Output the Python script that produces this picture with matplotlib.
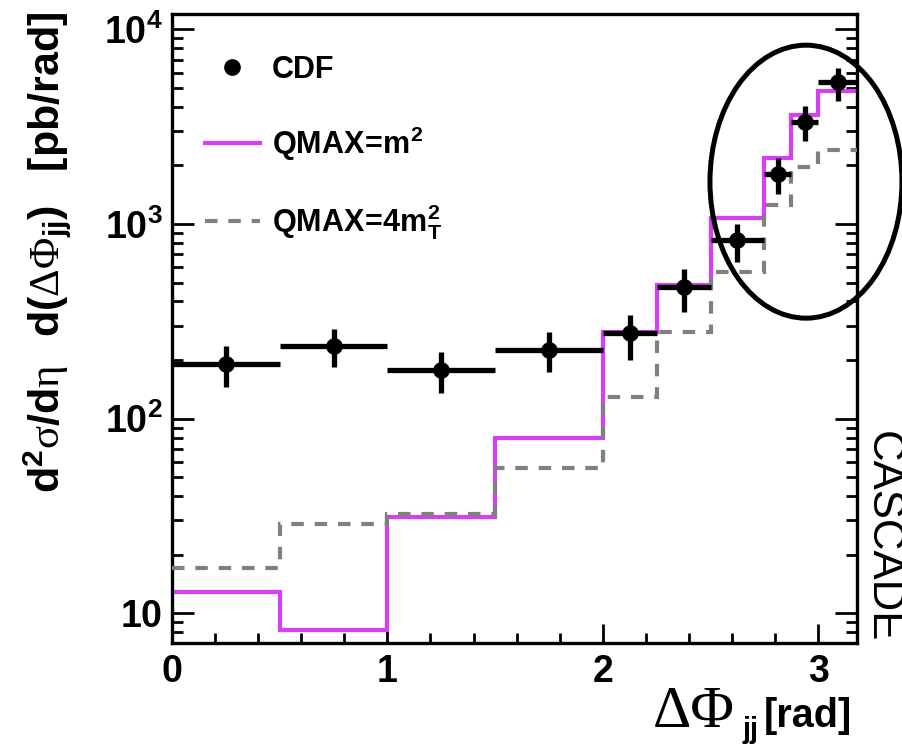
import numpy as np
import matplotlib
matplotlib.use("Agg")
import matplotlib.pyplot as plt
from matplotlib.lines import Line2D
from matplotlib.patches import Ellipse
from matplotlib.ticker import FixedLocator, MultipleLocator, LogLocator, NullFormatter

plt.rcParams['font.family'] = ['Liberation Sans', 'DejaVu Sans']
plt.rcParams['font.weight'] = 'bold'
plt.rcParams['mathtext.fontset'] = 'custom'
plt.rcParams['mathtext.rm'] = 'Liberation Serif:normal'
plt.rcParams['mathtext.it'] = 'Liberation Serif:normal'
plt.rcParams['mathtext.sf'] = 'Liberation Sans:bold'
plt.rcParams['mathtext.bf'] = 'Liberation Sans:bold'

# ---- data ----
bin_edges = [0.0, 0.5, 1.0, 1.5, 2.0, 2.25, 2.5, 2.75, 2.875, 3.0, 3.18]
cdf_y = [190, 237, 178, 225, 276, 473, 827, 1806, 3352, 5380]
cdf_err_lo = [45, 53, 42, 52, 76, 119, 187, 385, 683, 1080]
cdf_err_hi = [46, 51, 43, 53, 65, 112, 173, 368, 685, 926]
qmax_m2 = [12.8, 8.2, 31.4, 79.9, 280, 486, 1070, 2175, 3630, 4840]
qmax_4mt2 = [17.1, 28.7, 32.5, 55.6, 129, 280, 569, 1252, 1969, 2399]
x_ticks = [0, 1, 2, 3]
y_ticks = [10, 100, 1000, 10000]
y_tick_labels = [r'$\mathsf{10}$', r'$\mathsf{10^{2}}$', r'$\mathsf{10^{3}}$', r'$\mathsf{10^{4}}$']
legend_labels = ['CDF', r'$\mathsf{QMAX\!=\!m^{2}}$', r'$\mathsf{QMAX\!=\!4m_{T}^{2}}$']

edges = np.array(bin_edges)
centers = 0.5 * (edges[:-1] + edges[1:])
half = 0.5 * np.diff(edges)

fig = plt.figure(figsize=(9.02, 7.49), dpi=100)
ax = fig.add_axes([172/902, 1-642.7/749, 685/902, (642.7-14)/749])

magenta = '#d93df5'
grey = '#808080'
dash = (0, (3.0, 2.6))
ax.stairs(qmax_m2, edges, baseline=None, color=magenta, lw=3.0, zorder=2)
ax.stairs(qmax_4mt2, edges, baseline=None, color=grey, lw=3.0,
          linestyle=dash, zorder=3)
ax.errorbar(centers, cdf_y, xerr=half, yerr=[cdf_err_lo, cdf_err_hi],
            fmt='o', color='k', ms=11, elinewidth=3.8, capsize=0, zorder=4)

ax.set_yscale('log')
ax.set_xlim(0, 3.18)
ax.set_ylim(7.06, 1.2e4)

ax.xaxis.set_major_locator(FixedLocator(x_ticks))
ax.xaxis.set_minor_locator(MultipleLocator(0.2))
ax.set_xticklabels([str(t) for t in x_ticks])
ax.yaxis.set_major_locator(FixedLocator(y_ticks))
ax.set_yticklabels(y_tick_labels)
ax.yaxis.set_minor_locator(LogLocator(base=10, subs=np.arange(2, 10)))
ax.yaxis.set_minor_formatter(NullFormatter())

for s in ax.spines.values():
    s.set_linewidth(2.4)
ax.tick_params(axis='x', which='major', direction='in', length=14, width=2.0,
               labelsize=27, pad=8, top=False, bottom=True)
ax.tick_params(axis='x', which='minor', direction='in', length=7, width=2.0,
               top=False, bottom=True)
ax.tick_params(axis='y', which='major', direction='in', length=16, width=2.0,
               labelsize=27, pad=7, left=True, right=True)
ax.tick_params(axis='y', which='minor', direction='in', length=8, width=2.0,
               left=True, right=True)
for lab in ax.get_xticklabels() + ax.get_yticklabels():
    lab.set_fontweight('bold')

# x-axis title (Greek drawn larger, as in the reference)
fig.text(852/902, 1-727/749, '[rad]', ha='right', va='baseline', fontsize=28.5)
fig.text(758/902, 1-738/749, 'jj', ha='right', va='baseline', fontsize=21)
fig.text(735/902, 1-727/749, 'ΔΦ', ha='right', va='baseline', fontsize=43,
         family='Liberation Serif', fontweight='normal')

# y-axis title
fig.text(47/902, 1-12/749,
         r'$\mathsf{d^{2}}\sigma\mathsf{/d}\eta\ \ \,\mathsf{d(}\Delta\Phi_{\mathsf{jj}}\mathsf{)}\quad\mathsf{[pb/rad]}$',
         rotation=90, ha='center', va='top', fontsize=31)

# side text
fig.text(882/902, 1-537/749, 'CASCADE', rotation=-90, ha='center', va='center',
         fontsize=31.5, fontweight='normal')

# legend
handles = [Line2D([], [], marker='o', ls='none', color='k', ms=11),
           Line2D([], [], color=magenta, lw=3.0),
           Line2D([], [], color=grey, lw=3.0, linestyle=dash)]
leg = ax.legend(handles, legend_labels, loc='upper left', bbox_to_anchor=(0.048, 0.935),
                frameon=False, fontsize=22, handlelength=1.8, handletextpad=0.4,
                labelspacing=1.3, borderaxespad=0, borderpad=0)

# ellipse highlight
ax.add_patch(Ellipse((0.9255, 0.7333), 0.2803, 0.4342, transform=ax.transAxes,
                     fill=False, ec='k', lw=3.6, clip_on=False, zorder=5))

fig.savefig('out.png', dpi=100)
